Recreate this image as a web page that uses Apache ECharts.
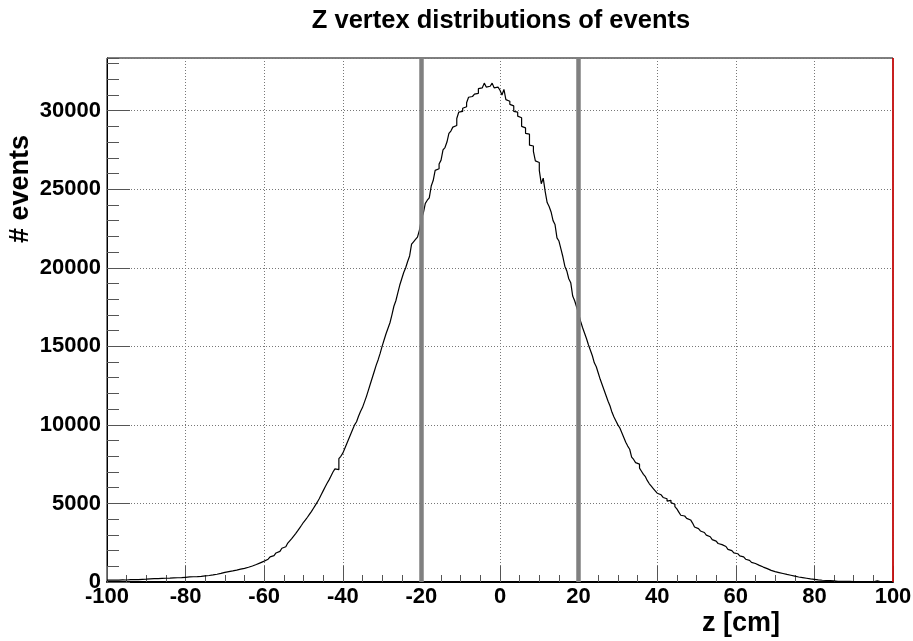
<!DOCTYPE html>
<html><head><meta charset="utf-8">
<script src="https://cdn.jsdelivr.net/npm/echarts@6/dist/echarts.min.js"></script>
<style>html,body{margin:0;padding:0;background:#fff}#c{width:913px;height:641px}</style>
</head><body><div id="c"></div>
<script>
const chartTitle = 'Z vertex distributions of events';
const xTitle = 'z [cm]';
const yTitle = '# events';
const binLow = -100;
const binWidth = 0.5;
const counts = [
115,120,112,128,125,118,135,130,140,128,142,150,145,155,160,150,165,172,168,180,
190,200,195,210,205,220,215,230,225,240,235,250,245,262,255,270,280,275,290,300,
310,325,318,335,345,340,360,355,375,390,400,415,430,450,470,495,520,550,580,615,
640,665,690,710,735,760,790,815,845,870,900,940,975,1020,1060,1110,1160,1220,1270,1330,
1390,1450,1520,1600,1680,1760,1850,1950,2050,2150,2240,2360,2480,2620,2760,2920,3080,3250,3430,3610,
3800,3950,4120,4300,4480,4680,4880,5080,5300,5550,5800,6050,6280,6500,6750,7000,7200,7150,7850,8000,
8200,8500,8800,9100,9400,9700,10000,10200,10550,10850,11100,11450,11800,12200,12600,13000,13400,13800,14150,14550,
15000,15400,15800,16150,16500,17000,17550,17900,18400,18900,19300,19700,20000,20400,20750,21500,21650,21800,21950,22400,
23100,23500,24100,24300,24450,25200,25550,26200,26300,26600,26850,27500,27650,28000,28550,28700,28950,29050,29500,29900,
29950,30150,30250,30500,30850,30900,30950,31050,31100,31400,31450,31500,31750,31500,31550,31450,31750,31450,31500,31400,
31300,31000,31350,30700,30600,30400,30300,29950,29900,29650,29550,29000,28900,28550,28500,27800,27750,27400,26800,26700,
26200,25350,25700,24850,24150,23900,23550,23000,22750,21900,21700,21200,20700,20100,19800,19300,19050,18200,17900,17500,
17100,16600,16200,15850,15500,15100,14750,14400,13950,13700,13300,12900,12550,12200,11850,11500,11200,10800,10500,10250,
10000,9800,9500,9200,8900,8650,8450,7950,7800,7600,7500,7250,7050,6850,6700,6450,6250,6100,5950,5800,
5650,5550,5450,5380,5300,5150,5200,5050,4950,4800,4650,4450,4250,4200,4100,4050,3950,3900,3750,3500,
3400,3300,3250,3150,3050,2980,2880,2800,2700,2600,2530,2450,2380,2320,2260,2150,2080,2000,1930,1850,
1800,1730,1660,1600,1530,1450,1380,1300,1250,1180,1130,1060,990,950,900,850,790,740,700,660,
630,600,570,540,510,480,455,430,400,375,350,320,300,280,260,240,215,195,180,165,
150,135,115,110,100,95,90,90,80,70,55,45,45,40,40,38,35,35,32,30,
30,28,30,25,28,25,22,20,60,15,18,70,20,15,12,10,10,8,8,5
];
const cutLines = [-20, 20];
const edgeLines = [100];
const xRange = [-100, 100];
const yRange = [0, 33350];

const FONT = 'Liberation Sans, Arial, sans-serif';
const pts = counts.map((v, i) => [binLow + i * binWidth, v]);
pts.push([binLow + counts.length * binWidth, counts[counts.length - 1]]);

const chart = echarts.init(document.getElementById('c'), null, {renderer: 'canvas'});
const dotted = {color: '#777', width: 1, type: [1, 2]};
const plain = v => String(v);
chart.setOption({
  animation: false,
  backgroundColor: '#fff',
  grid: {left: 107, right: 20, top: 58, bottom: 59, show: true, borderColor: '#000', borderWidth: 1,
    containLabel: false, outerBoundsMode: 'none'},
  xAxis: {
    type: 'value', min: xRange[0], max: xRange[1], interval: 20,
    axisLine: {show: true, onZero: false, lineStyle: {color: '#000', width: 2}},
    axisTick: {show: true, inside: true, length: 16, lineStyle: {color: '#555', width: 1}},
    minorTick: {show: true, splitNumber: 4, length: 7, lineStyle: {color: '#555', width: 1}},
    axisLabel: {show: true, margin: 4, fontFamily: FONT, fontWeight: 'bold', fontSize: 22, color: '#000',
      showMinLabel: true, showMaxLabel: true, formatter: plain},
    splitLine: {show: true, lineStyle: dotted}
  },
  yAxis: [{
    type: 'value', min: yRange[0], max: yRange[1], interval: 5000, position: 'left',
    axisLine: {show: true, onZero: false, lineStyle: {color: '#000', width: 1}},
    axisTick: {show: true, inside: true, length: 23, lineStyle: {color: '#555', width: 1}},
    axisLabel: {show: true, margin: 6, fontFamily: FONT, fontWeight: 'bold', fontSize: 22, color: '#000',
      showMaxLabel: false, showMinLabel: true, formatter: plain},
    splitLine: {show: true, lineStyle: dotted}
  }, {
    type: 'value', min: yRange[0], max: yRange[1], interval: 1000, position: 'left', offset: 0,
    axisLine: {show: false, onZero: false},
    axisTick: {show: true, inside: true, length: 12, lineStyle: {color: '#555', width: 1}},
    axisLabel: {show: false},
    splitLine: {show: false}
  }],
  graphic: [
    {type: 'text', x: 501, y: 21,
      style: {text: chartTitle, font: 'bold 25.5px ' + FONT, fill: '#000', align: 'center', verticalAlign: 'middle'}},
    {type: 'text', x: 21, y: 189, rotation: Math.PI / 2,
      style: {text: yTitle, font: 'bold 27px ' + FONT, fill: '#000', align: 'center', verticalAlign: 'middle'}},
    {type: 'text', x: 741, y: 624,
      style: {text: xTitle, font: 'bold 27px ' + FONT, fill: '#000', align: 'center', verticalAlign: 'middle'}}
  ],
  series: [{
    type: 'line', data: pts, step: 'end', symbol: 'none', showSymbol: false,
    xAxisIndex: 0, yAxisIndex: 0,
    lineStyle: {color: '#000', width: 1.2},
    markLine: {
      silent: true, symbol: ['none', 'none'], label: {show: false}, animation: false,
      data: cutLines.map(v => ({xAxis: v, lineStyle: {color: '#808080', width: 4.5, type: 'solid'}}))
        .concat(edgeLines.map(v => ({xAxis: v, lineStyle: {color: '#e00000', width: 1.5, type: 'solid'}})))
    }
  }]
});
</script></body></html>
